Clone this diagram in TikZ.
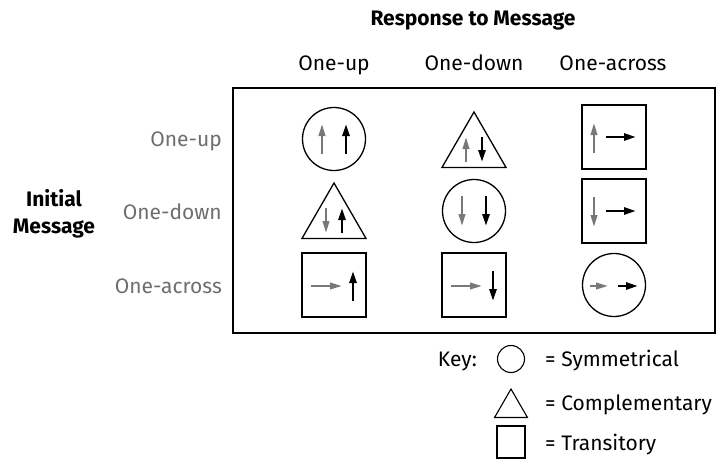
\documentclass[tikz,border=0pt]{standalone}
\usepackage{fontspec}
\setmainfont{Fira Sans}
\usetikzlibrary{shapes.geometric, arrows.meta, calc}
\definecolor{labelgray}{RGB}{110,110,110}
\definecolor{arrowgray}{RGB}{120,120,120}

\begin{document}
\begin{tikzpicture}[x=1pt, y=-1pt,
  lbl/.style={font=\fontsize{21}{27}\selectfont, inner sep=0pt, anchor=base},
  rowlbl/.style={lbl, text=labelgray, anchor=base east},
  sym/.style={draw, line width=1.3pt, circle, minimum size=63pt, inner sep=0pt},
  trans/.style={draw, line width=1.3pt, rectangle, minimum size=64pt, inner sep=0pt},
  comp/.style={draw, line width=1.3pt, regular polygon, regular polygon sides=3, minimum size=74pt, inner sep=0pt},
  garr/.style={-{Triangle[length=12pt,width=6.5pt]}, draw=arrowgray, line width=2.2pt},
  barr/.style={-{Triangle[length=12pt,width=7pt]}, line width=2.6pt}]
  \useasboundingbox (0,0) rectangle (723,461);

  % headings
  \node[lbl, font=\fontsize{21}{27}\selectfont\bfseries] (resp) at (473,25) {Response to Message};
  \node[lbl] (colup) at (334,70) {One-up};
  \node[lbl] (coldown) at (474,70) {One-down};
  \node[lbl] (colacross) at (613,70) {One-across};
  \node[lbl, font=\fontsize{21}{27}\selectfont\bfseries, align=center] (init) at (54,233) {Initial\\Message};
  \node[rowlbl] (rowup) at (222,146) {One-up};
  \node[rowlbl] (rowdown) at (222,219) {One-down};
  \node[rowlbl] (rowacross) at (222,293) {One-across};

  % frame
  \draw[line width=1.3pt] (233,88) rectangle (715,333);

  % row 1
  \node[sym] (c11) at (334,139) {};
  \draw[garr] ($(c11)+(-12,15)$) -- ($(c11)+(-12,-15)$);
  \draw[barr] ($(c11)+(12,15)$) -- ($(c11)+(12,-15)$);
  \node[comp] (c12) at (474,149) {};
  \draw[garr] ($(c12)+(-8,13)$) -- ($(c12)+(-8,-12)$);
  \draw[barr] ($(c12)+(8,-12)$) -- ($(c12)+(8,13)$);
  \node[trans] (c13) at (614,137) {};
  \draw[garr] ($(c13)+(-20,16)$) -- ($(c13)+(-20,-14)$);
  \draw[barr] ($(c13)+(-8,0)$) -- ($(c13)+(22,0)$);

  % row 2
  \node[comp] (c21) at (334,220) {};
  \draw[garr] ($(c21)+(-8,-12)$) -- ($(c21)+(-8,13)$);
  \draw[barr] ($(c21)+(8,13)$) -- ($(c21)+(8,-12)$);
  \node[sym] (c22) at (474,211) {};
  \draw[garr] ($(c22)+(-12,-15)$) -- ($(c22)+(-12,15)$);
  \draw[barr] ($(c22)+(12,-15)$) -- ($(c22)+(12,15)$);
  \node[trans] (c23) at (614,211) {};
  \draw[garr] ($(c23)+(-20,-14)$) -- ($(c23)+(-20,16)$);
  \draw[barr] ($(c23)+(-8,0)$) -- ($(c23)+(22,0)$);

  % row 3
  \node[trans] (c31) at (334,285) {};
  \draw[garr] ($(c31)+(-23,1)$) -- ($(c31)+(8,1)$);
  \draw[barr] ($(c31)+(19,16)$) -- ($(c31)+(19,-14)$);
  \node[trans] (c32) at (474,285) {};
  \draw[garr] ($(c32)+(-23,1)$) -- ($(c32)+(8,1)$);
  \draw[barr] ($(c32)+(19,-14)$) -- ($(c32)+(19,16)$);
  \node[sym] (c33) at (614,285) {};
  \draw[garr] ($(c33)+(-24,1)$) -- ($(c33)+(-6,1)$);
  \draw[barr] ($(c33)+(4,1)$) -- ($(c33)+(24,1)$);

  % key
  \node[lbl, anchor=base east] (key) at (477,366) {Key:};
  \node[draw, line width=1.1pt, circle, minimum size=27pt, inner sep=0pt] (keysym) at (511,359) {};
  \node[lbl, anchor=base west] (keysymtxt) at (545,366) {= Symmetrical};
  \node[draw, line width=1.1pt, regular polygon, regular polygon sides=3, minimum size=38pt, inner sep=0pt] (keycomp) at (511,408) {};
  \node[lbl, anchor=base west] (keycomptxt) at (545,410) {= Complementary};
  \node[draw, line width=1.1pt, rectangle, minimum width=28pt, minimum height=32pt, inner sep=0pt] (keytrans) at (511,442) {};
  \node[lbl, anchor=base west] (keytranstxt) at (545,450) {= Transitory};
\end{tikzpicture}
\end{document}
